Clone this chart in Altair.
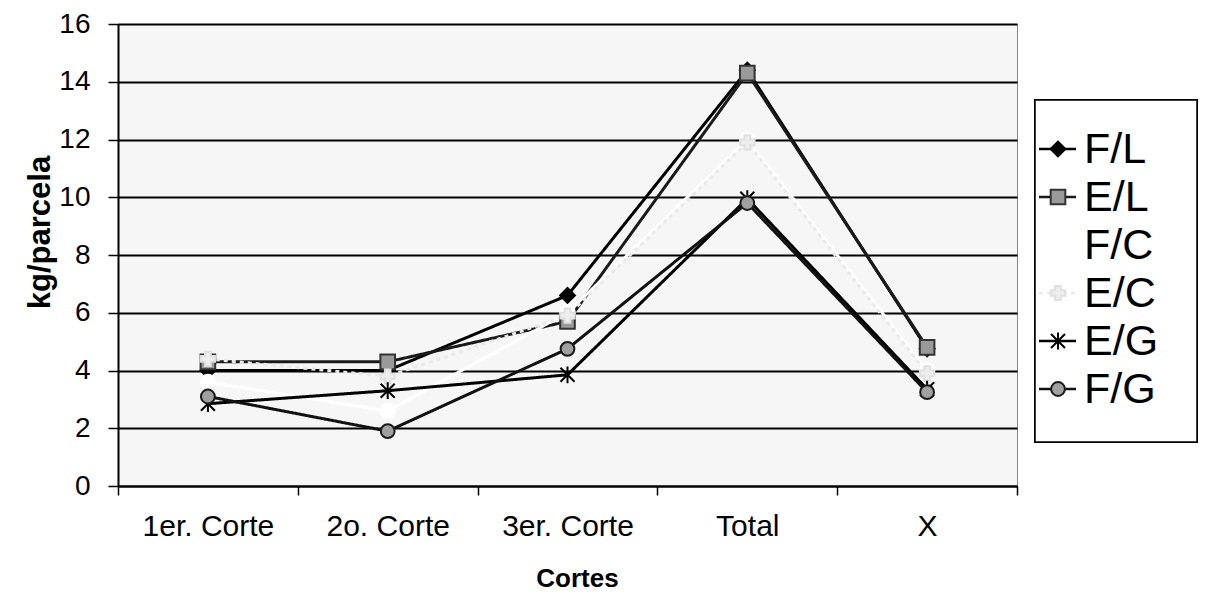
import altair as alt
import pandas as pd

categories = ["1er. Corte", "2o. Corte", "3er. Corte", "Total", "X"]
series = ["F/L", "E/L", "F/C", "E/C", "E/G", "F/G"]

vals_FL = [4.0, 4.0, 6.6, 14.4, 4.75]
vals_EL = [4.3, 4.3, 5.7, 14.3, 4.8]
vals_FC = [3.6, 2.6, 6.0, 12.0, 4.0]
vals_EC = [4.4, 3.8, 5.9, 11.9, 3.9]
vals_EG = [2.85, 3.3, 3.85, 9.95, 3.35]
vals_FG = [3.1, 1.9, 4.75, 9.8, 3.25]

all_vals = [vals_FL, vals_EL, vals_FC, vals_EC, vals_EG, vals_FG]

line_colors = ["#000000", "#1a1a1a", "#ffffff", "#e9e9e9", "#000000", "#111111"]
dashes = [[1, 0], [1, 0], [1, 0], [4, 4], [1, 0], [1, 0]]
star = "M-1,-1L1,1M1,-1L-1,1M0,-1.2L0,1.2"
shapes = ["diamond", "square", "circle", "cross", star, "circle"]
fills = ["#000000", "#9a9a9a", "#ffffff", "#eeeeee", "#000000", "#a0a0a0"]
strokes = ["#000000", "#333333", "#ffffff", "#e0e0e0", "#000000", "#1a1a1a"]
marker_op = [1, 1, 0, 0.35, 1, 1]
marker_size = [220, 190, 10, 50, 200, 200]

rows = []
for s, v in zip(series, all_vals):
    for c, y in zip(categories, v):
        rows.append({"Serie": s, "Corte": c, "kg": y})
df = pd.DataFrame(rows)
leg = pd.DataFrame({"Serie": series})

font = "Liberation Sans"

color_s = alt.Scale(domain=series, range=line_colors)
dash_s = alt.Scale(domain=series, range=dashes)
shape_s = alt.Scale(domain=series, range=shapes)
fill_s = alt.Scale(domain=series, range=fills)
stroke_s = alt.Scale(domain=series, range=strokes)
op_s = alt.Scale(domain=series, range=marker_op)
size_s = alt.Scale(domain=series, range=marker_size)

xenc = alt.X("Corte:N", sort=categories,
             scale=alt.Scale(paddingInner=0, paddingOuter=0),
             axis=alt.Axis(title="Cortes", tickBand="extent", labelAngle=0,
                           labelFont=font, labelFontSize=30, labelColor="black",
                           labelPadding=16, tickSize=9, tickColor="black", tickWidth=1.5,
                           domainColor="black", domainWidth=2, grid=False,
                           titleFont=font, titleFontSize=26, titleFontWeight="bold",
                           titleColor="black", titleX=459, titleY=92,
                           titleAlign="center", titleBaseline="middle"))
yenc = alt.Y("kg:Q", scale=alt.Scale(domain=[0, 16], nice=False),
             axis=alt.Axis(title="kg/parcela", values=list(range(0, 17, 2)),
                           labelFont=font, labelFontSize=28, labelColor="black",
                           labelPadding=18, tickSize=10, tickColor="black", tickWidth=1.5,
                           domainColor="black", domainWidth=2,
                           gridColor="black", gridWidth=2,
                           titleFont=font, titleFontSize=31, titleFontWeight="bold",
                           titleColor="black", titleX=-78, titleY=208,
                           titleAlign="center", titleBaseline="middle"))

lines = alt.Chart(df).mark_line(strokeWidth=3).encode(
    x=xenc, y=yenc,
    color=alt.Color("Serie:N", scale=color_s, legend=None),
    strokeDash=alt.StrokeDash("Serie:N", scale=dash_s, legend=None),
    detail="Serie:N",
)
points = alt.Chart(df).mark_point(filled=False, strokeWidth=2).encode(
    x=alt.X("Corte:N", sort=categories),
    y="kg:Q",
    shape=alt.Shape("Serie:N", scale=shape_s, legend=None),
    fill=alt.Fill("Serie:N", scale=fill_s, legend=None),
    stroke=alt.Stroke("Serie:N", scale=stroke_s, legend=None),
    opacity=alt.Opacity("Serie:N", scale=op_s, legend=None),
    size=alt.Size("Serie:N", scale=size_s, legend=None),
)
main = alt.layer(lines, points)

# legend panel
legy = alt.Y("Serie:N", sort=series, axis=None,
             scale=alt.Scale(type="point", domain=series, range=[101, 389]))
box = alt.Chart(leg).mark_rect(fill="white", stroke="black", strokeWidth=1.5).encode(
    x=alt.value(917), x2=alt.value(1079), y=alt.value(76), y2=alt.value(418))
leg_lines = alt.Chart(leg).mark_rule(strokeWidth=2.5).encode(
    x=alt.value(921), x2=alt.value(958), y=legy,
    color=alt.Color("Serie:N", scale=color_s, legend=None),
    strokeDash=alt.StrokeDash("Serie:N", scale=dash_s, legend=None),
)
leg_pts = alt.Chart(leg).mark_point(strokeWidth=2).encode(
    x=alt.value(940), y=legy,
    shape=alt.Shape("Serie:N", scale=shape_s, legend=None),
    fill=alt.Fill("Serie:N", scale=fill_s, legend=None),
    stroke=alt.Stroke("Serie:N", scale=stroke_s, legend=None),
    opacity=alt.Opacity("Serie:N", scale=op_s, legend=None),
    size=alt.Size("Serie:N", scale=size_s, legend=None),
)
leg_txt = alt.Chart(leg).mark_text(align="left", baseline="middle", font=font,
                                   fontSize=43, color="black", dy=1).encode(
    x=alt.value(966), y=legy, text="Serie:N")

legend = alt.layer(box, leg_lines, leg_pts, leg_txt)

chart = alt.layer(main, legend).resolve_scale(y="independent").properties(
    width=899, height=462,
    autosize=alt.AutoSizeParams(type="none"),
    padding={"left": 118, "top": 24, "right": 189, "bottom": 111},
    background="white",
).configure_view(fill="#f6f6f6", stroke="#888888", strokeWidth=1)

chart.save("out.html", embed_options={"renderer": "svg", "actions": False})
